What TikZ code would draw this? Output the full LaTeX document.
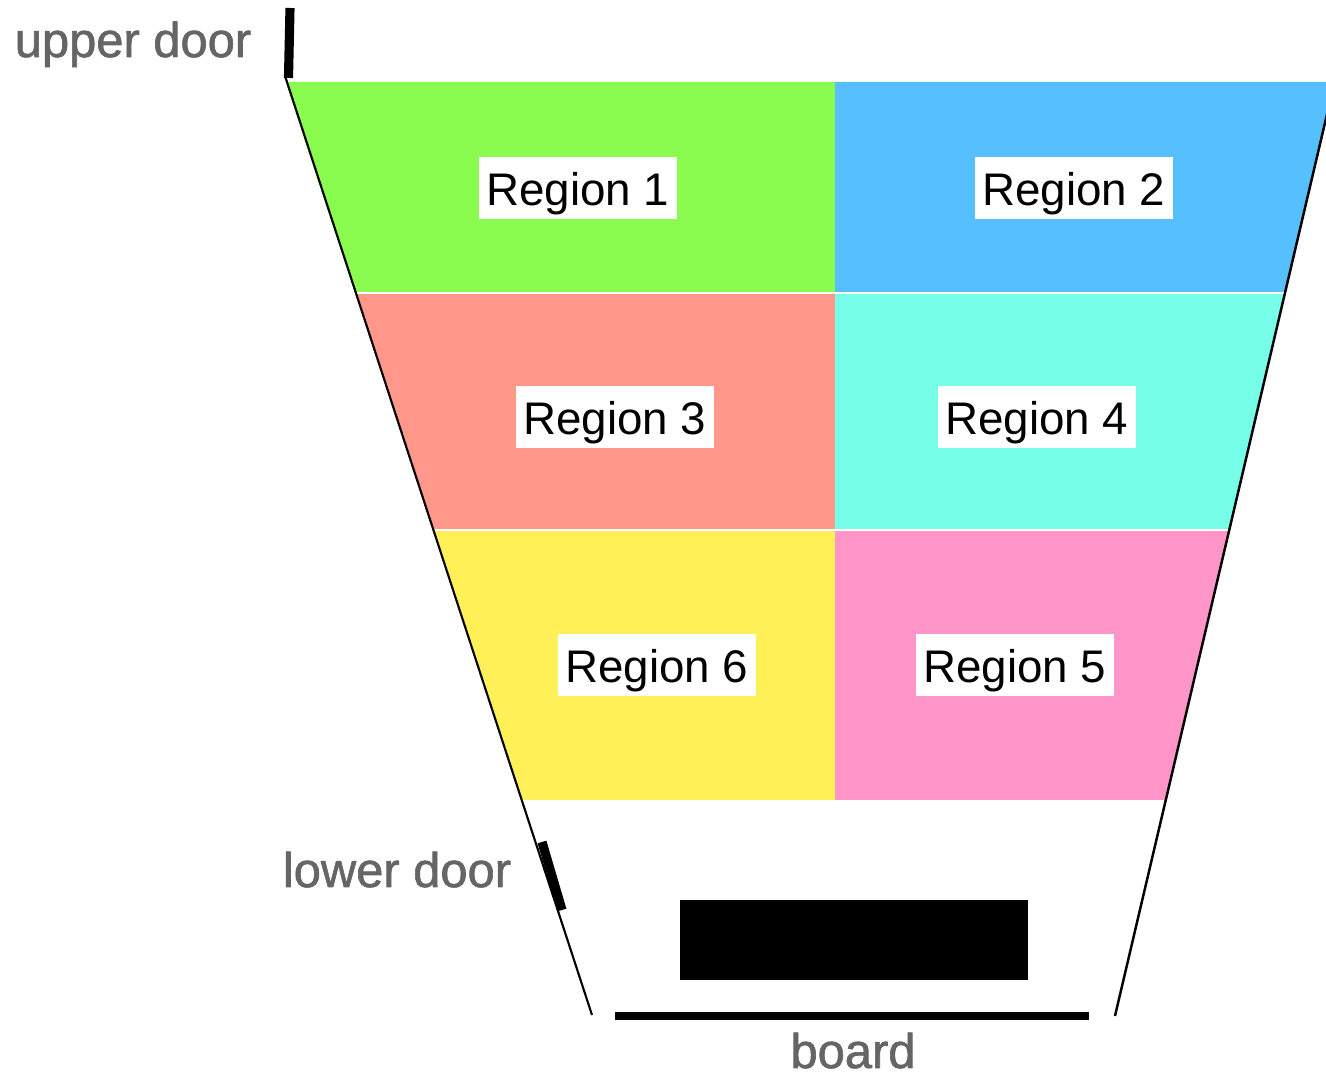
\documentclass[tikz,border=0pt]{standalone}
\usepackage{fontspec}
\setmainfont{Liberation Sans}
\newfontfamily\medsans[FakeBold=1.3]{Liberation Sans}
\usepackage{tikz}
\usetikzlibrary{calc}
\definecolor{rone}{HTML}{89FC4F}
\definecolor{rtwo}{HTML}{56BFFE}
\definecolor{rthree}{HTML}{FF978B}
\definecolor{rfour}{HTML}{76FEE9}
\definecolor{rfive}{HTML}{FF95C9}
\definecolor{rsix}{HTML}{FFF057}
\definecolor{doorgray}{HTML}{656565}
\tikzset{lbl/.style={fill=white,inner xsep=2pt,inner ysep=0pt,text height=13.9pt,text depth=4pt,font=\fontsize{13}{14}\selectfont}}
\tikzset{gry/.style={text=doorgray,anchor=base,inner sep=0pt,font=\medsans\fontsize{13.9}{14}\selectfont}}

\begin{document}
\begin{tikzpicture}[line join=round,x=.01cm,y=-.01cm]
  \useasboundingbox (0,0) rectangle (1326,1077);
  \clip (0,0) rectangle (1326,1077);
  % regions
  \fill[rone](285.7,82)--(835,82)--(835,293)--(354.9,293)--cycle;
  \fill[rtwo](835,82)--(1334.6,82)--(1285,293)--(835,293)--cycle;
  \fill[rthree](354.9,293)--(835,293)--(835,530)--(432.7,530)--cycle;
  \fill[rfour](835,293)--(1285,293)--(1229.3,530)--(835,530)--cycle;
  \fill[rsix](432.7,530)--(835,530)--(835,800)--(521.4,800)--cycle;
  \fill[rfive](835,530)--(1229.3,530)--(1165.9,800)--(835,800)--cycle;
  \draw[white,line width=.3pt](354.9,293)--(1285,293);
  \draw[white,line width=.3pt](432.7,530)--(1229.3,530);
  % walls
  \coordinate (lt) at (285,76);
  \coordinate (lb) at (592,1015);
  \coordinate (rt) at (1334.6,82);
  \coordinate (rb) at (1115,1016);
  \draw[line width=.6pt] (lt)--(lb);
  \draw[line width=.7pt] (rt)--(rb);
  % doors
  \draw[line width=2.6pt] (290,8)--(288.5,78);
  \draw[line width=2.6pt] (542,842)--(562,910);
  % board
  \fill (680,900) rectangle (1028,980);
  \draw[line width=2pt] (615,1016)--(1089,1016);
  % labels
  \node[lbl] (reg1) at (578,188) {Region 1};
  \node[lbl] (reg2) at (1074,188) {Region 2};
  \node[lbl] (reg3) at (615,417) {Region 3};
  \node[lbl] (reg4) at (1037,417) {Region 4};
  \node[lbl] (reg6) at (657,665) {Region 6};
  \node[lbl] (reg5) at (1015,665) {Region 5};
  \node[gry] (upper) at (133,57) {upper door};
  \node[gry] (lower) at (397,887) {lower door};
  \node[gry] (board) at (853,1068) {board};
\end{tikzpicture}
\end{document}
